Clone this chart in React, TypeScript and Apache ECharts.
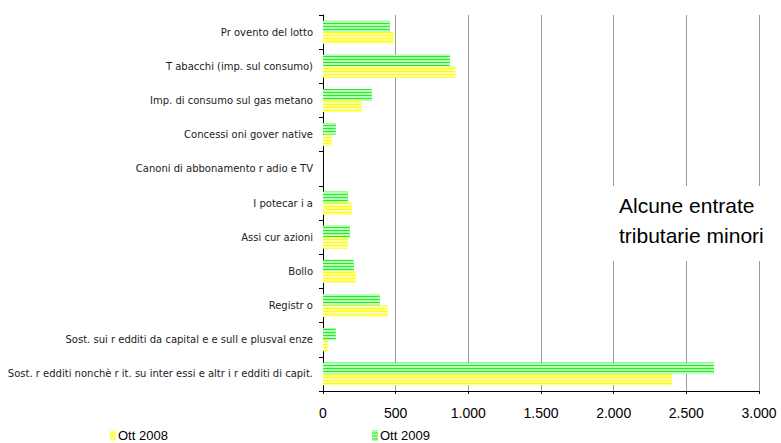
import React, { useEffect, useRef } from "react";
import * as echarts from "echarts";

const categories = [
  "Pr ovento del lotto",
  "T abacchi (imp. sul consumo)",
  "Imp. di consumo sul gas metano",
  "Concessi oni gover native",
  "Canoni di abbonamento r adio e TV",
  "I potecar i a",
  "Assi cur azioni",
  "Bollo",
  "Registr o",
  "Sost. sui r edditi da capital e e sull e plusval enze",
  "Sost. r edditi nonchè r it. su inter essi e altr i r edditi di capit.",
];
const ott2009 = [459, 872, 335, 87, 0, 170, 184, 211, 390, 87, 2689];
const ott2008 = [487, 911, 266, 60, 0, 197, 170, 225, 445, 32, 2400];
const xTicks = [0, 500, 1000, 1500, 2000, 2500, 3000];
const seriesNames = ["Ott 2008", "Ott 2009"];

export default function App() {
  const ref = useRef<HTMLDivElement>(null);
  useEffect(() => {
    const chart = echarts.init(ref.current!, null, { renderer: "svg" });
    const stripe = (c: string) => ({
      symbol: "rect",
      symbolSize: 1,
      color: c,
      dashArrayX: [[1, 0]],
      dashArrayY: [2, 1],
      rotation: 0,
    });
    const sans = "'Liberation Sans', Arial, sans-serif";
    const legendBase = {
      top: 429,
      padding: 0,
      icon: "rect",
      itemWidth: 6,
      itemHeight: 10,
      itemGap: 4,
      textStyle: { fontSize: 13, color: "#000", fontFamily: sans, padding: [0, 0, 0, -3] },
    };
    chart.setOption({
      animation: false,
      textStyle: { fontFamily: sans },
      grid: { left: 323, right: 22, top: 15, bottom: 52, containLabel: false },
      legend: [
        { ...legendBase, left: 110, data: [seriesNames[0]] },
        { ...legendBase, left: 372, data: [seriesNames[1]] },
      ],
      xAxis: {
        type: "value",
        min: xTicks[0],
        max: xTicks[xTicks.length - 1],
        interval: 500,
        axisLine: { show: true, lineStyle: { color: "#000" } },
        axisTick: { show: true, length: 3, lineStyle: { color: "#000" } },
        splitLine: { show: true, lineStyle: { color: "#999", width: 1 } },
        axisLabel: {
          color: "#000",
          fontSize: 14,
          fontFamily: sans,
          margin: 15,
          formatter: (v: number) => v.toLocaleString("de-DE"),
        },
      },
      yAxis: {
        type: "category",
        inverse: true,
        data: categories,
        axisLine: { show: true, lineStyle: { color: "#000" } },
        axisTick: { show: true, length: 4, lineStyle: { color: "#000" } },
        axisLabel: { color: "#222", fontSize: 10, margin: 10, fontFamily: "'DejaVu Sans', sans-serif" },
      },
      series: [
        {
          name: "Ott 2009",
          type: "bar",
          data: ott2009,
          barGap: "0%",
          barCategoryGap: "33%",
          itemStyle: { color: "#22ee22", decal: stripe("rgba(200,255,200,0.9)") },
        },
        {
          name: "Ott 2008",
          type: "bar",
          data: ott2008,
          barGap: "0%",
          barCategoryGap: "33%",
          itemStyle: { color: "#ffff00", decal: stripe("rgba(255,255,190,0.9)") },
        },
      ],
      graphic: [
        {
          type: "group",
          left: 605,
          top: 186,
          z: 100,
          children: [
            { type: "rect", z: 100, shape: { x: 0, y: 0, width: 168, height: 75 }, style: { fill: "#fff" } },
            {
              type: "text",
              z: 101,
              x: 14,
              y: 4,
              style: {
                text: "Alcune entrate\ntributarie minori",
                font: "21px 'Liberation Sans', Arial, sans-serif",
                lineHeight: 30,
                fill: "#000",
              },
            },
          ],
        },
      ],
    });
    return () => chart.dispose();
  }, []);
  return <div ref={ref} style={{ width: 781, height: 443, position: "absolute", left: 0, top: 0 }} />;
}
